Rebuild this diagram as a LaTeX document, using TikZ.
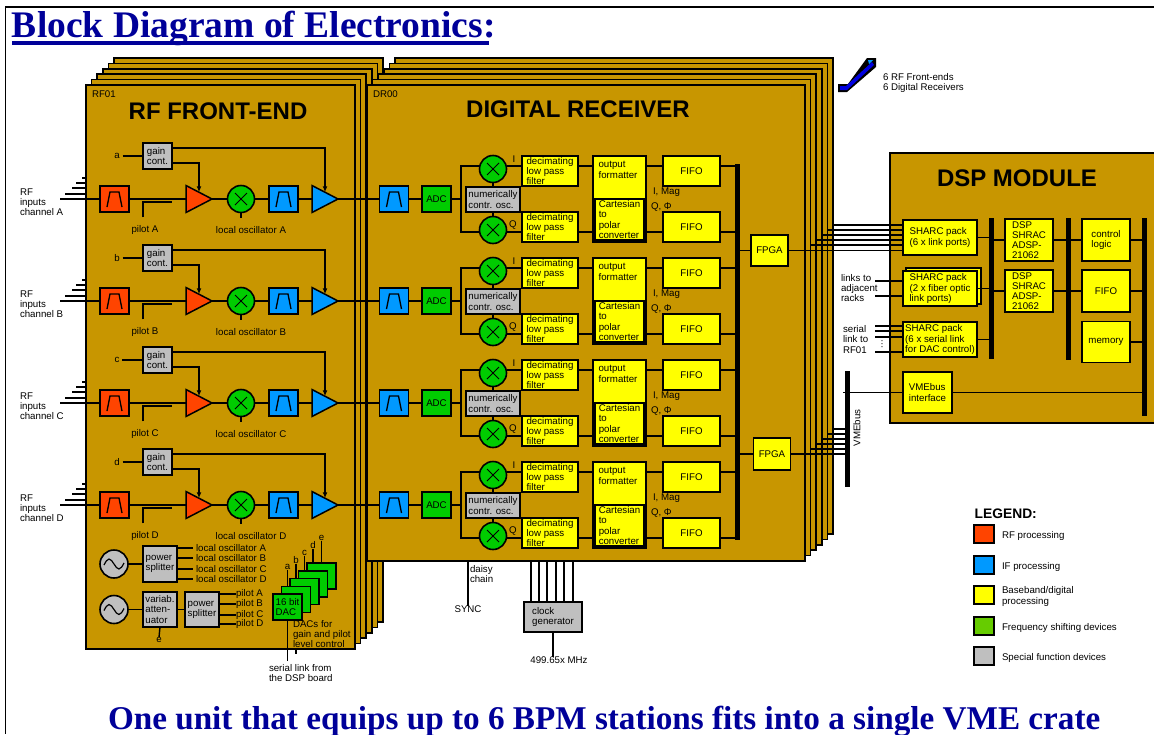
\documentclass[tikz,border=0pt]{standalone}
\usepackage{fontspec}
\setmainfont{Liberation Sans}
\newfontfamily\headfont{Liberation Serif}
\usetikzlibrary{arrows.meta,shapes.geometric}
\definecolor{boardc}{HTML}{C89600}
\definecolor{rfc}{HTML}{FF4400}
\definecolor{ifc}{HTML}{0099FF}
\definecolor{basec}{HTML}{FFFF00}
\definecolor{shiftc}{HTML}{00CC00}
\definecolor{legshiftc}{HTML}{66CC00}
\definecolor{specc}{HTML}{BFBFBF}
\definecolor{headc}{HTML}{000099}
\definecolor{arrowc}{HTML}{0000E0}
\begin{document}
\begin{tikzpicture}[x=1pt,y=-1pt,
  lbl/.style = {inner sep=0pt,outer sep=0pt,align=left,font=\fontsize{9.7}{10.2}\selectfont},
  title/.style = {inner sep=0pt,outer sep=0pt,font=\bfseries\fontsize{24}{26}\selectfont},
  headline/.style = {inner sep=0pt,outer sep=0pt,anchor=base west,text=headc,font=\headfont\bfseries},
  board/.style = {draw,fill=boardc,line width=1.5pt,inner sep=0pt,outer sep=0pt},
  block/.style = {lbl,draw,rectangle,line width=1.5pt},
  filterbox/.style = {block,minimum width=29pt,minimum height=26pt,
    path picture={\draw[line width=1.3pt,shift={(path picture bounding box.center)}] (-7.5,8) -- (-4.5,-7) -- (4.5,-7) -- (7.5,8);}},
  adcbox/.style = {block,fill=shiftc,minimum width=29pt,minimum height=26pt},
  yelbox/.style = {block,fill=basec},
  graybox/.style = {block,fill=specc},
  amp/.style = {isosceles triangle,isosceles triangle stretches,draw,line width=1.5pt,inner sep=0pt,outer sep=0pt,
    minimum width=27pt,minimum height=26pt,anchor=lower side},
  mixer/.style = {circle,draw,fill=shiftc,line width=1.6pt,inner sep=0pt,outer sep=0pt,minimum size=27pt,
    path picture={\draw[line width=1pt,shift={(path picture bounding box.center)}] (-6,-6) -- (6,6) (-6,6) -- (6,-6);}},
  osc/.style = {circle,draw,fill=specc,line width=1.6pt,inner sep=0pt,outer sep=0pt,minimum size=28pt,
    path picture={\draw[line width=1.2pt,shift={(path picture bounding box.center)}] (-10,1) sin (-5,-5) cos (0,0) sin (5,5) cos (10,-1);}},
  busbar/.style = {fill=black,inner sep=0pt,outer sep=0pt,minimum width=5pt},
  wire/.style = {line width=1.4pt},
  tip/.style = {line width=1.4pt,-{Latex[length=6pt,width=5pt]}}]
\useasboundingbox (0,0) rectangle (1154,734);
\draw[line width=1.5pt] (1154,7) -- (5.5,7) -- (5.5,734);

\node[headline,font=\headfont\bfseries\fontsize{37.5}{40}\selectfont] (head) at (12,37) {Block Diagram of Electronics:};
\draw[headc,line width=3.5pt] (head.base west) ++(0,6) coordinate (ula) -- (489,43) coordinate (ulb);
\node[headline,font=\headfont\bfseries\fontsize{33.2}{36}\selectfont] (foot) at (108,729) {One unit that equips up to 6 BPM stations fits into a single VME crate};

\foreach \k in {5,4,...,0}
    \node[board,minimum width=269pt,minimum height=564pt] (rf\k) at ({220.5+5.6*\k},{367-5.4*\k}) {};
\foreach \k in {5,4,...,0}
    \node[board,minimum width=438pt,minimum height=476pt] (dr\k) at ({586+5.6*\k},{323-5.4*\k}) {};
\fill[boardc] (890,153) rectangle (1154,423);
\draw[line width=1.5pt] (1154,153) -- (890,153) -- (890,423) -- (1154,423);

\node[lbl,anchor=west] (rftag) at (92,94) {RF01};
\node[lbl,anchor=west] (drtag) at (373,94) {DR00};
\node[title] (rftitle) at (218,111) {RF FRONT-END};
\node[title] (drtitle) at (578,109) {DIGITAL RECEIVER};
\node[title] (dsptitle) at (1017,178) {DSP MODULE};

\node[busbar,minimum height=376pt] (busdr) at (737,352) {};
\node[busbar,minimum height=116pt] (busvme) at (847,429) {};
\node[busbar,minimum height=141pt] (bustwo) at (991,288.5) {};
\node[busbar,minimum height=142pt] (busthree) at (1068,289) {};
\node[busbar,minimum height=198pt] (busfour) at (1144,317) {};

\foreach \ch/\lc/\Y in {A/a/199,B/b/301,C/c/403,D/d/505} {
    \node[lbl,anchor=west] (rfname\ch) at (20,\Y+3) {RF\\inputs\\channel \ch};
    \coordinate (rfin\ch) at (60,\Y);
    \foreach \dy/\xs in {-5/65,-11/72,-16/76,-21/82} {
        \coordinate (stub) at (\xs,\Y+\dy);
        \draw[wire] (stub) -- (rf0.west |- stub);
    }
    \node[filterbox,fill=rfc] (rfflt\ch) at (114.5,\Y) {};
    \node[amp,fill=rfc] (rfamp\ch) at (186,\Y) {};
    \node[mixer] (lomix\ch) at (241,\Y) {};
    \node[filterbox,fill=ifc] (ifflt\ch) at (283.5,\Y) {};
    \node[amp,fill=ifc] (ifamp\ch) at (312,\Y) {};
    \node[graybox,minimum width=29pt,minimum height=26pt] (gain\ch) at (157.5,\Y-43) {gain\\cont.};
    \node[lbl] (cl\lc) at (117,\Y-43) {\lc};
    \node[lbl] (pilot\ch) at (145,\Y+31) {pilot \ch};
    \node[lbl] (lotxt\ch) at (251,\Y+31) {local oscillator \ch};
    \coordinate (pilotend\ch) at (172,\Y+3);
    \draw[wire] (cl\lc.east) ++(3,0) -- (gain\ch.west);
    \draw[tip] ([yshift=8pt]gain\ch.east) -| (ifamp\ch.left side);
    \draw[tip] ([yshift=-7pt]gain\ch.east) -| (rfamp\ch.left side);
    \draw[wire] ([shift={(-2pt,8pt)}]pilot\ch.north) |- (pilotend\ch);
    \draw[wire] (lomix\ch.south) -- ++(0,5);
    \node[filterbox,fill=ifc] (drflt\ch) at (394,\Y) {};
    \node[adcbox] (adc\ch) at (436.5,\Y) {ADC};
    \node[mixer] (mixI\ch) at (493,\Y-30) {};
    \node[mixer] (mixQ\ch) at (493,\Y+31) {};
    \node[graybox,minimum width=54pt,minimum height=25pt] (nco\ch) at (493,\Y+0.5) {numerically\\contr. osc.};
    \node[yelbox,minimum width=56pt,minimum height=30pt] (decI\ch) at (550,\Y-28) {decimating\\low pass\\filter};
    \node[yelbox,minimum width=56pt,minimum height=30pt] (decQ\ch) at (550,\Y+28) {decimating\\low pass\\filter};
    \node[yelbox,minimum width=53pt,minimum height=86pt] (fmt\ch) at (619.5,\Y) {};
    \node[lbl] (fmttxt\ch) at (618,\Y-29) {output\\formatter};
    \node[yelbox,line width=1.2pt,minimum width=49pt,minimum height=41pt] (cart\ch) at (619.5,\Y+20.5) {Cartesian\\to\\polar\\converter};
    \node[yelbox,minimum width=57pt,minimum height=30pt] (fifoI\ch) at (691.5,\Y-28) {FIFO};
    \node[yelbox,minimum width=57pt,minimum height=30pt] (fifoQ\ch) at (691.5,\Y+28) {FIFO};
    \node[lbl] (ilab\ch) at (514,\Y-40) {I};
    \node[lbl] (qlab\ch) at (513,\Y+26) {Q};
    \node[lbl,anchor=west] (mag\ch) at (653,\Y-7) {I, Mag};
    \node[lbl,anchor=west] (phi\ch) at (651,\Y+8) {Q, Φ};
    \draw[wire] (rfin\ch) -- (rfflt\ch.west);
    \draw[wire] (rfflt\ch.east) -- (rfamp\ch.lower side);
    \draw[wire] (rfamp\ch.apex) -- (lomix\ch.west);
    \draw[wire] (lomix\ch.east) -- (ifflt\ch.west);
    \draw[wire] (ifflt\ch.east) -- (ifamp\ch.lower side);
    \draw[wire] (ifamp\ch.apex) -- (drflt\ch.west);
    \draw[wire] (drflt\ch.east) -- (adc\ch.west);
    \draw[wire] (adc\ch.east) -- ++(10,0) coordinate (split\ch);
    \draw[wire] (mixI\ch.south) -- (mixI\ch.south |- nco\ch.north);
    \draw[wire] (mixQ\ch.north) -- (mixQ\ch.north |- nco\ch.south);
    \coordinate (lvI\ch) at (0,\Y-33);
    \coordinate (lvQ\ch) at (0,\Y+33);
    \foreach \q in {I,Q} {
        \draw[wire] (split\ch) |- (mix\q\ch.west |- lv\q\ch);
        \draw[wire] (mix\q\ch.east |- lv\q\ch) -- (dec\q\ch.west |- lv\q\ch);
        \draw[wire] (dec\q\ch.east |- lv\q\ch) -- (fmt\ch.west |- lv\q\ch);
        \draw[wire] (fmt\ch.east |- lv\q\ch) -- (fifo\q\ch.west |- lv\q\ch);
        \draw[wire] (fifo\q\ch.east |- lv\q\ch) -- (busdr.west |- lv\q\ch);
    }
}

\node[yelbox,minimum width=37pt,minimum height=31pt] (fpgaone) at (769.5,250.5) {FPGA};
\node[yelbox,minimum width=37pt,minimum height=32pt] (fpgatwo) at (772,454) {FPGA};
\node[yelbox,minimum width=75pt,minimum height=36pt] (sharcback) at (943.5,286) {};
\node[yelbox,minimum width=74pt,minimum height=35pt] (sharcone) at (940,237.5) {SHARC pack\\(6 x link ports)};
\node[yelbox,minimum width=74pt,minimum height=35pt] (sharctwo) at (940,288.5) {SHARC pack\\(2 x fiber optic\\link ports)};
\node[yelbox,minimum width=74pt,minimum height=35pt] (sharcthree) at (940,339.5) {SHARC pack\\(6 x serial link\\for DAC control)};
\node[yelbox,minimum width=49pt,minimum height=41pt] (vmeif) at (927.5,392.5) {VMEbus\\interface};
\node[yelbox,minimum width=48pt,minimum height=42pt] (dspone) at (1029,240) {DSP\\SHRAC\\ADSP-\\21062};
\node[yelbox,minimum width=48pt,minimum height=42pt] (dsptwo) at (1029,291) {DSP\\SHRAC\\ADSP-\\21062};
\node[yelbox,minimum width=48pt,minimum height=42pt] (ctrl) at (1106,240) {control\\logic};
\node[yelbox,minimum width=48pt,minimum height=42pt] (fifodsp) at (1106,291) {FIFO};
\node[yelbox,minimum width=48pt,minimum height=41pt] (mem) at (1106,342) {memory};

\draw[wire] (busdr.east |- fpgaone.west) -- (fpgaone.west);
\draw[wire] (busdr.east |- fpgatwo.west) -- (fpgatwo.west);
\draw[wire] (fpgaone.east) -- (sharcone.west |- fpgaone.east);
\draw[wire] (fpgatwo.east) -- (busvme.west |- fpgatwo.east);
\foreach \k in {1,...,5} {
    \coordinate (linkup) at (0,250-5*\k);
    \draw[wire] (dr\k.east |- linkup) -- (sharcone.west |- linkup);
    \coordinate (linkdn) at (0,454-5*\k);
    \draw[wire] (dr\k.east |- linkdn) -- (busvme.west |- linkdn);
}
\foreach \a in {sharcone,sharctwo,sharcthree}
    \draw[wire] (\a.east) -- (bustwo.west |- \a.east);
\foreach \a in {dspone,dsptwo} {
    \draw[wire] (bustwo.east |- \a.west) -- (\a.west);
    \draw[wire] (\a.east) -- (busthree.west |- \a.east);
}
\foreach \a in {ctrl,fifodsp} 
    \draw[wire] (busthree.east |- \a.west) -- (\a.west);
\foreach \a in {ctrl,fifodsp,mem} 
    \draw[wire] (\a.east) -- (busfour.west |- \a.east);
\coordinate (vmestub) at (843,392.5);
\draw[wire] (vmestub) -- (vmeif.west);
\draw[wire] (vmeif.east) -- (busfour.west |- vmeif.east);
\node[lbl,rotate=90] (vmetxt) at (857,428) {VMEbus};

\node[lbl,anchor=west] (racks) at (841,288) {links to\\adjacent\\racks};
\node[lbl,anchor=west] (serial) at (843,339.5) {serial\\link to\\RF01};
\node[lbl,rotate=90] (serdots) at (882,344) {...};
\foreach \yy in {281,296} {
    \coordinate (stub) at (875,\yy);
    \draw[wire] (stub) -- (sharctwo.west |- stub);
}
\foreach \yy in {326,331,337,352} {
    \coordinate (stub) at (875,\yy);
    \draw[wire] (stub) -- (sharcthree.west |- stub);
}

\node[osc] (oscone) at (114,564) {};
\node[osc] (osctwo) at (114,609.5) {};
\node[graybox,minimum width=34pt,minimum height=36pt] (splitone) at (160,564) {power\\splitter};
\node[graybox,minimum width=34pt,minimum height=35pt] (atten) at (160,609.5) {variab.\\atten-\\uator};
\node[graybox,minimum width=34pt,minimum height=35pt] (splittwo) at (202,609.5) {power\\splitter};
\node[lbl] (elab) at (159,640) {e};
\draw[wire] (oscone.east) -- (splitone.west);
\draw[wire] (osctwo.east) -- (atten.west);
\draw[wire] (atten.east) -- (splittwo.west);
\draw[wire] (atten.south) -- (elab.north);
\foreach \ch/\yy in {A/548,B/558,C/569,D/579} {
    \node[lbl,anchor=west] (lout\ch) at (196,\yy) {local oscillator \ch};
    \draw[wire,shorten >=3pt] (splitone.east |- lout\ch.west) -- (lout\ch.west);
}
\foreach \ch/\yy in {A/594,B/604,C/615,D/624} {
    \node[lbl,anchor=west] (pout\ch) at (236,\yy) {pilot \ch};
    \draw[wire] (splittwo.east |- pout\ch.west) -- (pout\ch.west);
}

\foreach \k in {4,3,...,0}
    \node[adcbox,minimum height=26pt] (dac\k) at ({287.5+8.5*\k},{607-7.75*\k}) {\ifnum\k=0 16 bit\\DAC\fi};
\foreach \lc/\k/\kk/\yy in {a/0/1/567,b/1/2/560,c/2/3/553,d/3/4/545,e/4/4/538} {
    \node[lbl] (dl\lc) at ({287.5+8.5*\k},\yy) {\lc};
    \draw[wire] (dl\lc.south) -- (dl\lc.south |- dac\kk.north);
}
\node[lbl,anchor=west] (dactxt) at (293,634) {DACs for\\gain and pilot\\level control};
\node[lbl,anchor=west] (sertxt) at (269,673) {serial link from\\the DSP board};
\coordinate (serend) at (287.5,661);
\coordinate (stuba) at (296,649);
\coordinate (stubb) at (296,654);
\draw[wire] (dac0.south) -- (serend);
\draw[wire] (stuba) -- (stubb);

\node[lbl] (sync) at (468,609) {SYNC};
\node[lbl,anchor=west] (daisy) at (470,574) {daisy\\chain};
\draw[wire] (dr0.south -| sync.north) -- (sync.north);
\node[graybox,minimum width=58pt,minimum height=30pt] (clock) at (553,617) {clock\\generator};
\node[lbl] (clockf) at (559,660) {499.65x MHz};
\foreach \xx in {531,539,547,556,564,573} {
    \coordinate (tap) at (\xx,0);
    \draw[wire] (dr0.south -| tap) -- (clock.north -| tap);
}
\draw[wire] (clock.south) -- (clock.south |- clockf.north);

\fill (838,84) -- (848,84) -- (867,58) -- (876,58) -- (876,67) -- (847,92) -- (838,92) -- cycle;
\fill[arrowc] (840,86) -- (846,86) -- (872,62) -- (874,65) -- (847,90) -- (840,90) -- cycle;
\fill[ifc] (868,60) -- (873,60) -- (869,64) -- cycle;
\node[lbl,anchor=west] (stacktxt) at (883,83) {6 RF Front-ends\\6 Digital Receivers};

\node[anchor=west,inner sep=0pt,font=\bfseries\fontsize{13.8}{15}\selectfont] (legend) at (974.5,513.5) {LEGEND:};
\foreach \c/\yy/\t [count=\n] in {rfc/534/RF processing,ifc/565/IF processing,basec/595/{Baseband/digital\\processing},legshiftc/626/Frequency shifting devices,specc/656/Special function devices} {
    \node[block,fill=\c,minimum width=20pt,minimum height=18pt] (sw\n) at (984,\yy) {};
    \node[lbl,anchor=west] (swtxt\n) at (1002,\yy+1.5) {\t};
}
\end{tikzpicture}
\end{document}
